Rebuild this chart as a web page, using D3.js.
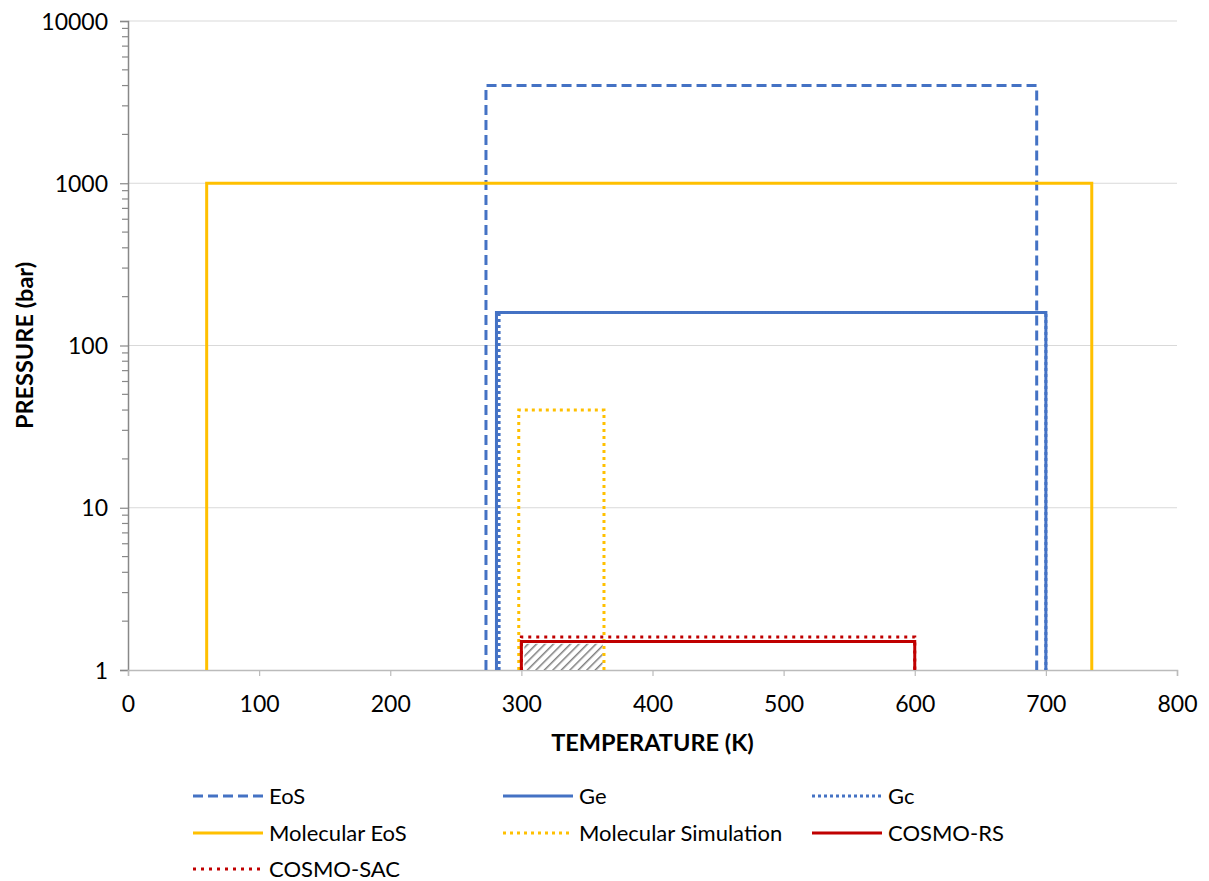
<!DOCTYPE html>
<html>
<head>
<meta charset="utf-8">
<script src="https://cdn.jsdelivr.net/npm/d3@7"></script>
<style>
  body { margin: 0; background: #fff; }
  text { font-family: Lato, "Open Sans", sans-serif; fill: #000; }
</style>
</head>
<body>
<div id="chart"></div>
<script>
// series: each one is a rectangle [Tmin, Tmax] x [1, Pmax]
var seriesNames = ["EoS", "Ge", "Gc", "Molecular EoS", "Molecular Simulation", "COSMO-RS", "COSMO-SAC"];
var tMin = [273, 281, 283, 60, 298, 300, 300];
var tMax = [693, 700, 700, 735, 363, 600, 600];
var pMax = [4000, 160, 160, 1000, 40, 1.5, 1.6];
var colors = ["#4472C4", "#4472C4", "#4472C4", "#FFC000", "#FFC000", "#C00000", "#C00000"];
var dashes = ["10,5", null, "3,3", null, "3,4", null, "3,5"];

// hatched overlap area
var hatchT = [300, 362];
var hatchP = [1, 1.45];

var xTicks = [0, 100, 200, 300, 400, 500, 600, 700, 800];
var yTicks = [1, 10, 100, 1000, 10000];

var W = 1209, H = 881;
var mLeft = 128, mRight = 1177, mTop = 21, mBottom = 670;

var svg = d3.select("#chart").append("svg").attr("width", W).attr("height", H);

var x = d3.scaleLinear().domain([0, 800]).range([mLeft, mRight]);
var y = d3.scaleLog().domain([1, 10000]).range([mBottom, mTop]);

// gridlines
svg.append("g").selectAll("line")
    .data(yTicks.slice(1))
    .enter().append("line")
    .attr("x1", mLeft).attr("x2", mRight)
    .attr("y1", d => y(d)).attr("y2", d => y(d))
    .attr("stroke", "#d9d9d9").attr("stroke-width", 1);

// minor ticks on log axis
var minor = [];
for (var dec = 1; dec < 10000; dec *= 10) {
    for (var k = 2; k <= 9; k++) minor.push(dec * k);
}
svg.append("g").selectAll("line")
    .data(minor)
    .enter().append("line")
    .attr("x1", mLeft - 6).attr("x2", mLeft)
    .attr("y1", d => y(d)).attr("y2", d => y(d))
    .attr("stroke", "#888").attr("stroke-width", 1.2);

// y axis
var yAxis = d3.axisLeft(y).tickValues(yTicks).tickFormat(d3.format("d")).tickSizeOuter(0).tickSize(8).tickPadding(12);
var gy = svg.append("g").attr("transform", "translate(" + mLeft + ",0)").call(yAxis);
gy.select(".domain").attr("stroke", "#888").attr("stroke-width", 1.5);
gy.selectAll(".tick line").attr("stroke", "#888").attr("stroke-width", 1.2);
gy.selectAll("text").style("font-size", "23px").attr("dy", "0.35em");

// x axis
var xAxis = d3.axisBottom(x).tickValues(xTicks).tickSizeOuter(0).tickSize(6).tickPadding(20);
var gx = svg.append("g").attr("transform", "translate(0," + mBottom + ")").call(xAxis);
gx.select(".domain").attr("stroke", "#bbb").attr("stroke-width", 1.5);
gx.selectAll(".tick line").attr("stroke", "#bbb").attr("stroke-width", 1.2);
gx.selectAll("text").style("font-size", "23px");

// hatch pattern
var defs = svg.append("defs");
var pat = defs.append("pattern")
    .attr("id", "hatch").attr("patternUnits", "userSpaceOnUse")
    .attr("width", 6).attr("height", 6)
    .attr("patternTransform", "rotate(45)");
pat.append("rect").attr("width", 6).attr("height", 6).attr("fill", "#fff");
pat.append("line").attr("x1", 0).attr("y1", 0).attr("x2", 0).attr("y2", 6)
    .attr("stroke", "#7f7f7f").attr("stroke-width", 3);

svg.append("rect")
    .attr("x", x(hatchT[0]) + 3)
    .attr("y", y(hatchP[1]))
    .attr("width", x(hatchT[1]) - x(hatchT[0]) - 3)
    .attr("height", y(hatchP[0]) - y(hatchP[1]))
    .attr("fill", "url(#hatch)");

// series rectangles (open at bottom)
var line = d3.line().x(d => x(d[0])).y(d => y(d[1]));
seriesNames.forEach(function (name, i) {
    var pts = [[tMin[i], 1], [tMin[i], pMax[i]], [tMax[i], pMax[i]], [tMax[i], 1]];
    svg.append("path")
        .attr("d", line(pts))
        .attr("fill", "none")
        .attr("stroke", colors[i])
        .attr("stroke-width", 3)
        .attr("stroke-dasharray", dashes[i])
        .attr("stroke-linejoin", "miter");
});

// axis titles
svg.append("text")
    .attr("x", (mLeft + mRight) / 2).attr("y", 751)
    .attr("text-anchor", "middle")
    .style("font-size", "23.5px").style("font-weight", "bold")
    .text("TEMPERATURE (K)");
svg.append("text")
    .attr("transform", "translate(33," + ((mTop + mBottom) / 2) + ") rotate(-90)")
    .attr("text-anchor", "middle")
    .style("font-size", "23.5px").style("font-weight", "bold")
    .text("PRESSURE (bar)");

// legend
var colX = [193, 503, 812];
var rowY = [796, 833, 869];
var leg = svg.append("g");
seriesNames.forEach(function (name, i) {
    var cx = colX[i % 3], cy = rowY[Math.floor(i / 3)];
    leg.append("line")
        .attr("x1", cx).attr("x2", cx + 70)
        .attr("y1", cy).attr("y2", cy)
        .attr("stroke", colors[i]).attr("stroke-width", 3)
        .attr("stroke-dasharray", dashes[i]);
    leg.append("text")
        .attr("x", cx + 76).attr("y", cy)
        .attr("dy", "0.35em")
        .style("font-size", "22px")
        .text(name);
});
</script>
</body>
</html>
